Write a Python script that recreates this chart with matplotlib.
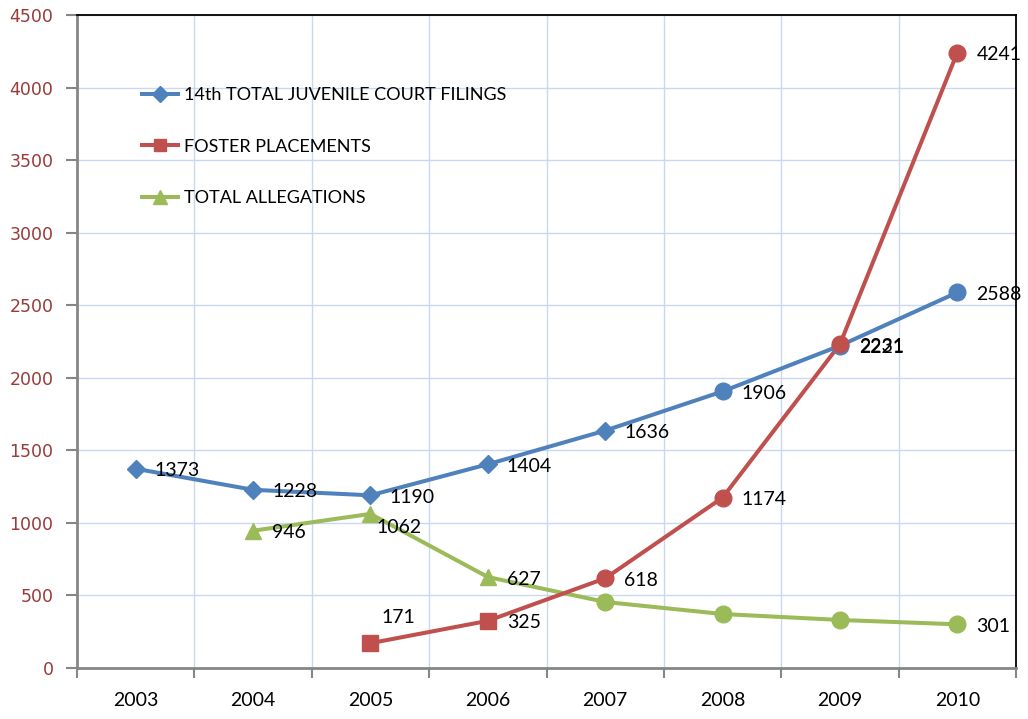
import matplotlib
matplotlib.use("Agg")
import matplotlib.pyplot as plt
from matplotlib.lines import Line2D
import numpy as np

years = ["2003", "2004", "2005", "2006", "2007", "2008", "2009", "2010"]
filings = [1373, 1228, 1190, 1404, 1636, 1906, 2221, 2588]
foster = [None, None, 171, 325, 618, 1174, 2231, 4241]
allegations = [None, 946, 1062, 627, 455, 372, 331, 301]
# which points carry a data label
allegation_labels = [None, "946", "1062", "627", None, None, None, "301"]

filings_markers = ["D", "D", "D", "D", "D", "o", "o", "o"]
foster_markers = [None, None, "s", "s", "o", "o", "o", "o"]
alleg_markers = [None, "^", "^", "^", "o", "o", "o", "o"]

BLUE = "#4f81bd"
RED = "#c0504d"
GREEN = "#9bbb59"
GRID = "#c9d8ee"

LABEL_FONT = ["Lato", "DejaVu Sans"]

fig = plt.figure(figsize=(10.28, 7.19), dpi=100)
ax = fig.add_axes([77/1028, 1 - 668/719, (1016-77)/1028, (668-15)/719])

x = np.arange(len(years))

msize = {"D": 9.5, "o": 12, "s": 11, "^": 12}

def draw(values, markers, color, labels=None, offsets=None):
    xs = [xi for xi, v in zip(x, values) if v is not None]
    vs = [v for v in values if v is not None]
    ax.plot(xs, vs, color=color, lw=2.9, zorder=3, solid_capstyle="round")
    for i, (xi, v) in enumerate(zip(x, values)):
        if v is None:
            continue
        m = markers[i]
        ax.plot([xi], [v], marker=m, ms=msize[m], color=color, mec=color, zorder=4, ls="none")
        lab = str(v) if labels is None else labels[i]
        if lab is None:
            continue
        dx, dy = (19, -2)
        if offsets and i in offsets:
            dx, dy = offsets[i]
        ax.annotate(lab, (xi, v), xytext=(dx, dy), textcoords="offset pixels",
                    ha="left", va="center", fontsize=14, family=LABEL_FONT,
                    color="black", zorder=6, annotation_clip=False)

draw(filings, filings_markers, BLUE)
draw(allegations, alleg_markers, GREEN, labels=allegation_labels, offsets={2: (6, -14)})
draw(foster, foster_markers, RED, offsets={2: (11, 26)})

ax.set_xlim(-0.5, 7.5)
ax.set_ylim(0, 4500)

# x axis: ticks at category boundaries, labels at centers
ax.set_xticks(np.arange(-0.5, 8.0, 1.0))
ax.set_xticklabels([])
ax.set_xticks(x, minor=True)
ax.set_xticklabels(years, minor=True, fontsize=14, family=LABEL_FONT, color="black")
ax.tick_params(axis="x", which="major", direction="out", length=7, width=1.5, color="#868686")
ax.tick_params(axis="x", which="minor", length=0, pad=17)

ax.set_yticks(np.arange(0, 4501, 500))
ax.tick_params(axis="y", direction="out", length=8, width=1.5, color="#868686",
               labelsize=12.5, labelcolor="#9a3b39", pad=9)
for t in ax.get_yticklabels():
    t.set_family("DejaVu Sans")

ax.grid(True, which="major", color=GRID, lw=1.0, zorder=0)
ax.set_axisbelow(True)

for s in ["left", "bottom"]:
    ax.spines[s].set_color("#868686")
    ax.spines[s].set_linewidth(2)
for s in ["top", "right"]:
    ax.spines[s].set_color("black")
    ax.spines[s].set_linewidth(1.3)

handles = [
    Line2D([], [], color=BLUE, lw=2.9, marker="D", ms=8.5),
    Line2D([], [], color=RED, lw=2.9, marker="s", ms=9),
    Line2D([], [], color=GREEN, lw=2.9, marker="^", ms=10),
]
names = ["14th TOTAL JUVENILE COURT FILINGS", "FOSTER PLACEMENTS", "TOTAL ALLEGATIONS"]
leg = ax.legend(handles, names, loc="upper left", bbox_to_anchor=(0.069, 0.889),
                frameon=False, borderpad=0, borderaxespad=0, handlelength=2.0,
                handletextpad=0.35, labelspacing=1.95,
                prop={"family": LABEL_FONT, "size": 13})

fig.savefig("out.png", dpi=100)
